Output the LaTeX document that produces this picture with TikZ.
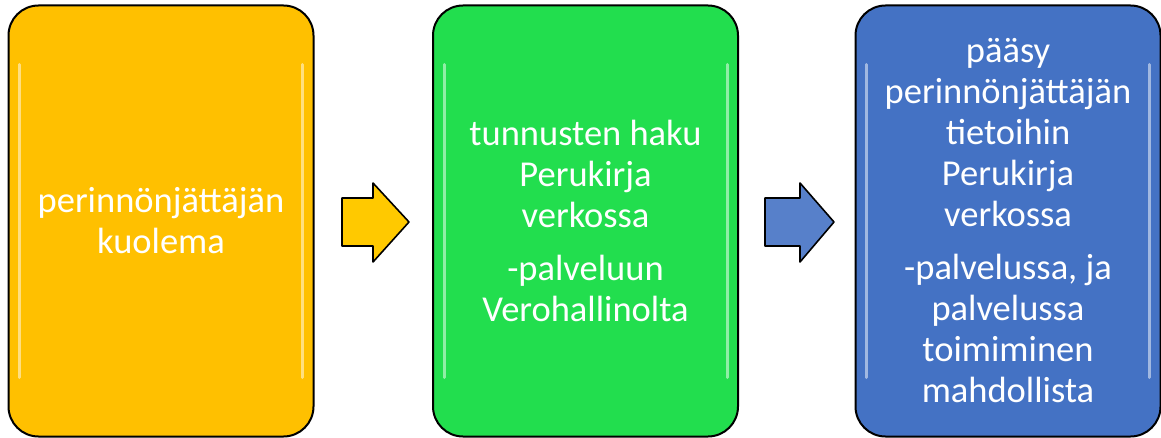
\documentclass[tikz,border=0pt]{standalone}
\usepackage{fontspec}
\setmainfont{Carlito}
\definecolor{boxorange}{HTML}{FFC000}
\definecolor{boxgreen}{HTML}{22DE4E}
\definecolor{boxblue}{HTML}{4472C4}
\tikzset{
  stage/.style={draw=black, line width=2pt, rounded corners=30pt,
    minimum width=305pt, minimum height=431pt, text=white, align=center,
    font=\fontsize{36.5}{41}\selectfont},
  gloss/.style={white, opacity=0.5, line width=3pt, line cap=round},
  flowarrow/.style={draw=black, line width=1.6pt, line join=round}
}
\begin{document}
\begin{tikzpicture}[x=1pt,y=-1pt]
        \useasboundingbox (0,0) rectangle (1161,438);
        %vaiheet
        \node[stage, fill=boxorange] (kuolema) at (161,221) {perinnönjättäjän\\kuolema};
        \node[stage, fill=boxgreen] (tunnukset) at (585.5,221) {tunnusten haku\\Perukirja\\verkossa\\[12pt]-palveluun\\Verohallinolta};
        \node[stage, fill=boxblue] (paasy) at (1008,221) {pääsy\\perinnönjättäjän\\tietoihin\\Perukirja\\verkossa\\[12pt]-palvelussa, ja\\palvelussa\\toimiminen\\mahdollista};
        %kiilto
        \foreach \n in {kuolema,tunnukset,paasy} {
          \draw [gloss] ([xshift=12pt,yshift=-60pt]\n.north west) -- ([xshift=12pt,yshift=60pt]\n.south west);
          \draw [gloss] ([xshift=-12pt,yshift=-60pt]\n.north east) -- ([xshift=-12pt,yshift=60pt]\n.south east);
        }
        %nuolet
        \draw [flowarrow, fill=boxorange!85!yellow] (342,198) -- (373,198) -- (373,183) -- (409,222) -- (373,262) -- (373,246) -- (342,246) -- cycle;
        \draw [flowarrow, fill=boxblue!90!white] (765,198) -- (800,198) -- (800,183) -- (834,222) -- (800,262) -- (800,246) -- (765,246) -- cycle;
\end{tikzpicture}
\end{document}
